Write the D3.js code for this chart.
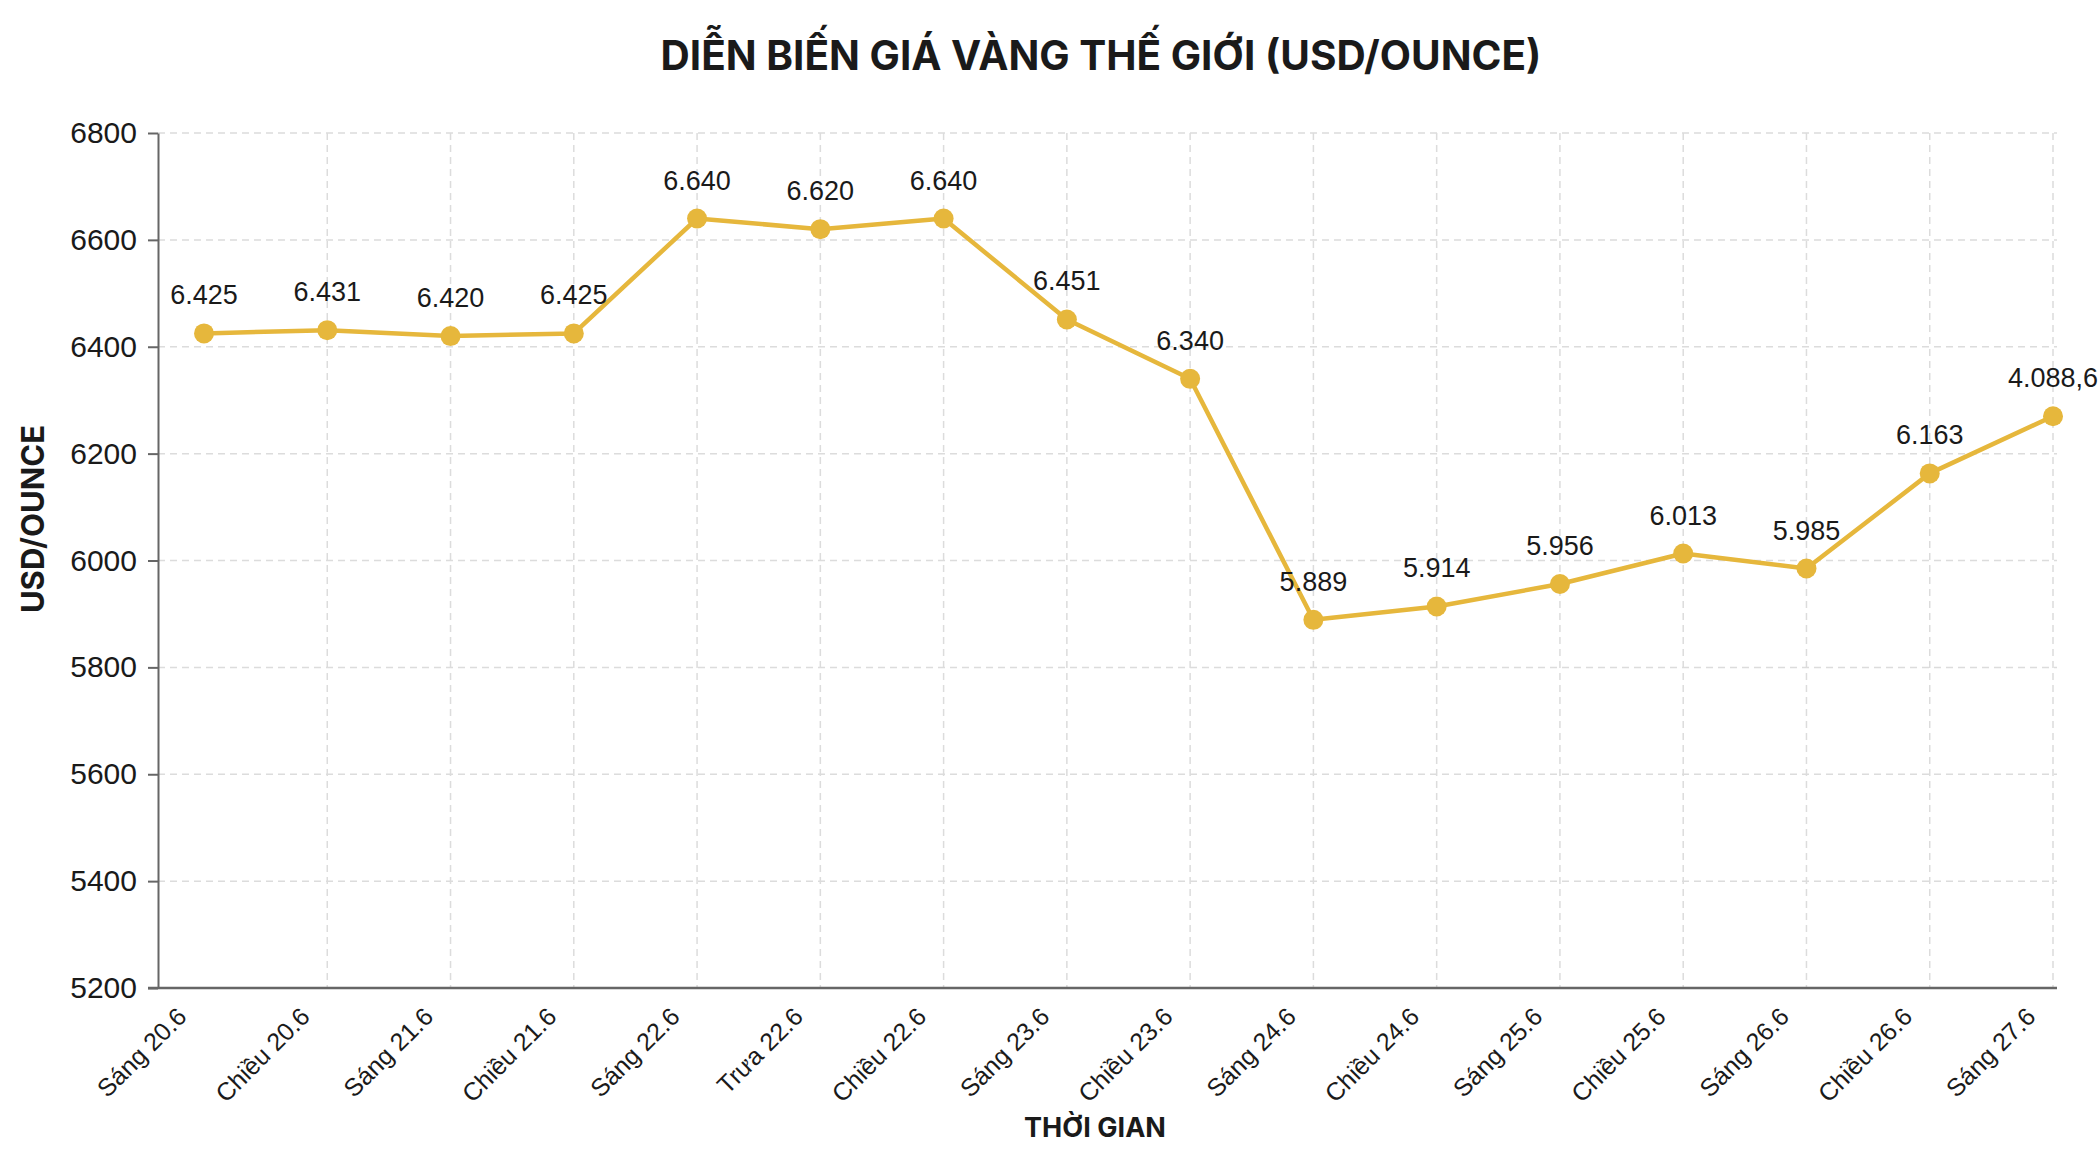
<!DOCTYPE html>
<html lang="vi">
<head>
    <meta charset="UTF-8">
    <title>Diễn biến giá vàng thế giới</title>
    <script src="https://cdn.jsdelivr.net/npm/d3@7/dist/d3.min.js"></script>
    <style>
        body { margin: 0; background: #fff; }
        svg { display: block; }
        text { font-family: "Liberation Sans", Arial, sans-serif; fill: #1a1a1a; }
    </style>
</head>
<body>
    <script>
        // data
        var categories = ["Sáng 20.6", "Chiều 20.6", "Sáng 21.6", "Chiều 21.6", "Sáng 22.6", "Trưa 22.6",
                          "Chiều 22.6", "Sáng 23.6", "Chiều 23.6", "Sáng 24.6", "Chiều 24.6", "Sáng 25.6",
                          "Chiều 25.6", "Sáng 26.6", "Chiều 26.6", "Sáng 27.6"];
        var prices = [6425, 6431, 6420, 6425, 6640, 6620, 6640, 6451, 6340, 5889, 5914, 5956, 6013, 5985, 6163, 6270];
        var priceLabels = ["6.425", "6.431", "6.420", "6.425", "6.640", "6.620", "6.640", "6.451", "6.340",
                           "5.889", "5.914", "5.956", "6.013", "5.985", "6.163", "4.088,6"];
        var yTicks = [5200, 5400, 5600, 5800, 6000, 6200, 6400, 6600, 6800];

        //width, height and plot area
        var w = 2098;
        var h = 1152;
        var plotLeft = 158, plotRight = 2057, plotTop = 133, plotBottom = 988;
        var gold = '#e6b73c';

        var svg = d3.select('body')
                    .append('svg')
                    .attr('width', w)
                    .attr('height', h);

        //scales
        var xScale = d3.scalePoint()
                        .domain(categories)
                        .range([204, 2053]);

        var yScale = d3.scaleLinear()
                        .domain([5200, 6800])
                        .range([plotBottom, plotTop]);

        //horizontal grid
        svg.append('g')
            .selectAll('line')
            .data(yTicks.slice(1))
            .enter()
            .append('line')
            .attr('x1', plotLeft)
            .attr('x2', plotRight)
            .attr('y1', function(d) { return yScale(d); })
            .attr('y2', function(d) { return yScale(d); })
            .attr('stroke', '#dcdcdc')
            .attr('stroke-width', 1.5)
            .attr('stroke-dasharray', '7,5');

        //vertical grid - none on the first category
        svg.append('g')
            .selectAll('line')
            .data(categories.slice(1))
            .enter()
            .append('line')
            .attr('x1', function(d) { return xScale(d); })
            .attr('x2', function(d) { return xScale(d); })
            .attr('y1', plotTop)
            .attr('y2', plotBottom)
            .attr('stroke', '#dcdcdc')
            .attr('stroke-width', 1.5)
            .attr('stroke-dasharray', '7,5');

        //y axis
        var yAxis = d3.axisLeft(yScale)
                        .tickValues(yTicks)
                        .tickFormat(d3.format('d'))
                        .tickSizeInner(10)
                        .tickSizeOuter(0)
                        .tickPadding(11);

        var gy = svg.append('g')
            .attr('transform', 'translate(' + plotLeft + ',0)')
            .call(yAxis);
        gy.select('.domain').attr('stroke', '#666').attr('stroke-width', 2);
        gy.selectAll('.tick line').attr('stroke', '#666').attr('stroke-width', 2);
        gy.selectAll('.tick text')
            .style('font-size', '30px')
            .style('font-family', '"Liberation Sans", Arial, sans-serif')
            .attr('fill', '#1a1a1a');

        //x axis
        svg.append('line')
            .attr('x1', plotLeft - 10)
            .attr('x2', plotRight)
            .attr('y1', plotBottom)
            .attr('y2', plotBottom)
            .attr('stroke', '#666')
            .attr('stroke-width', 2.5);

        svg.append('g')
            .selectAll('text')
            .data(categories)
            .enter()
            .append('text')
            .attr('transform', function(d) {
                return 'translate(' + (xScale(d) - 22) + ',' + (plotBottom + 24) + ') rotate(-45)';
            })
            .attr('text-anchor', 'end')
            .attr('dy', '0.35em')
            .style('font-size', '25px')
            .text(function(d) { return d; });

        //line
        var line = d3.line()
                    .x(function(d, i) { return xScale(categories[i]); })
                    .y(function(d) { return yScale(d); });

        svg.append('path')
            .datum(prices)
            .attr('d', line)
            .attr('fill', 'none')
            .attr('stroke', gold)
            .attr('stroke-width', 4.5)
            .attr('stroke-linejoin', 'round');

        svg.append('g')
            .selectAll('circle')
            .data(prices)
            .enter()
            .append('circle')
            .attr('cx', function(d, i) { return xScale(categories[i]); })
            .attr('cy', function(d) { return yScale(d); })
            .attr('r', 10)
            .attr('fill', gold);

        //value labels
        svg.append('g')
            .selectAll('text')
            .data(prices)
            .enter()
            .append('text')
            .attr('x', function(d, i) { return xScale(categories[i]); })
            .attr('y', function(d) { return yScale(d) - 29; })
            .attr('text-anchor', 'middle')
            .style('font-size', '27px')
            .text(function(d, i) { return priceLabels[i]; });

        //titles
        svg.append('text')
            .attr('x', 1101)
            .attr('y', 70)
            .attr('text-anchor', 'middle')
            .style('font-family', 'Inter, "Liberation Sans", sans-serif')
            .style('font-weight', 700)
            .style('font-size', '40.5px')
            .attr('fill', '#111827')
            .text('DIỄN BIẾN GIÁ VÀNG THẾ GIỚI (USD/OUNCE)');

        svg.append('text')
            .attr('transform', 'translate(44,519) rotate(-90)')
            .attr('text-anchor', 'middle')
            .style('font-family', 'Inter, "Liberation Sans", sans-serif')
            .style('font-weight', 700)
            .style('font-size', '31px')
            .text('USD/OUNCE');

        svg.append('text')
            .attr('x', 1095)
            .attr('y', 1137)
            .attr('text-anchor', 'middle')
            .style('font-family', 'Inter, "Liberation Sans", sans-serif')
            .style('font-weight', 700)
            .style('font-size', '27px')
            .text('THỜI GIAN');
    </script>
</body>
</html>
